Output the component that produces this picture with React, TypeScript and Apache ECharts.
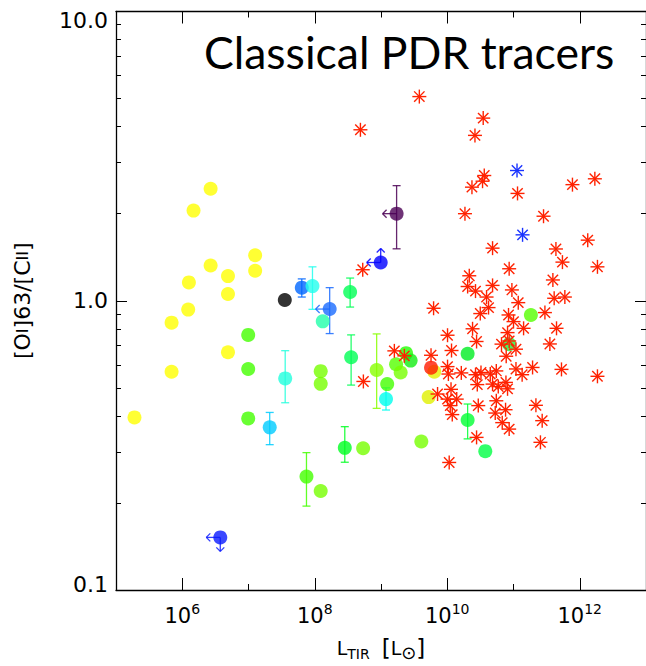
import React, { useEffect, useRef } from "react";
import * as echarts from "echarts";

// ---------- axis ticks ----------
const xMajorTicks = [1e6, 1e8, 1e10, 1e12];
const xMinorTicks = [1e7, 1e9, 1e11];
const yMajorTicks = [0.1, 1, 10];
const yMinorTicks = [0.2, 0.3, 0.4, 0.5, 0.6, 0.7, 0.8, 0.9, 2, 3, 4, 5, 6, 7, 8, 9];
const yTickLabels = ["0.1", "1.0", "10.0"];

// ---------- filled circles (L_TIR [Lsun], [OI]63/[CII], error low/high, limits, colour) ----------
const circleL = [
  1.9e5, 6.9e5, 6.9e5, 1.23e6, 1.26e6, 1.48e6, 2.68e6, 2.68e6, 4.9e6, 4.9e6, 4.9e6, 1.26e7, 1.26e7,
  9.9e6, 9.9e6, 9.9e6, 3.53e7, 6.37e7, 9.24e7, 1.68e8, 1.32e8, 3.42e8, 9.9e8, 1.72e9, 3.58e7, 2.09e7,
  7.5e7, 1.23e8, 3.75e6, 1.23e8, 1.23e8, 3.54e8, 8.6e8, 1.24e9, 1.19e9, 2.84e8, 5.37e8, 1.69e9, 1.98e9,
  2.39e9, 2.8e9, 6.38e9, 5.69e9, 5.24e9, 4.06e9, 2.03e10, 2.03e10, 3.75e10, 1.83e11, 8.6e10,
];
const circleR = [
  0.395, 0.568, 0.84, 0.932, 1.157, 2.05, 2.44, 1.324, 1.217, 1.055, 0.664, 1.437, 1.27,
  0.762, 0.581, 0.392, 1.006, 1.11, 1.124, 0.936, 0.849, 1.072, 1.356, 2.0, 0.539, 0.365,
  0.2466, 0.22, 0.152, 0.571, 0.516, 0.638, 0.576, 0.515, 0.457, 0.31, 0.309, 0.6035, 0.565,
  0.659, 0.621, 0.568, 0.587, 0.4645, 0.326, 0.387, 0.656, 0.302, 0.893, 0.708,
];
const circleLo: (number | null)[] = [
  null, null, null, null, null, null, null, null, null, null, null, null, null,
  null, null, null, null, 1.03, 0.934, 0.77, null, 0.951, null, 1.512, 0.444, 0.318,
  0.195, null, null, null, null, 0.511, 0.4246, null, 0.419, 0.2765, null, null, null,
  null, null, null, null, null, null, 0.333, null, null, null, null,
];
const circleHi: (number | null)[] = [
  null, null, null, null, null, null, null, null, null, null, null, null, null,
  null, null, null, null, 1.19, 1.31, 1.11, null, 1.198, null, 2.5, 0.672, 0.411,
  0.2985, null, null, null, null, 0.762, 0.768, null, 0.5, 0.367, null, null, null,
  null, null, null, null, null, null, 0.4395, null, null, null, null,
];
const circleLimits = [
  "", "", "", "", "", "", "", "", "", "", "", "", "",
  "", "", "", "", "", "", "left", "", "", "left up", "left", "", "",
  "", "", "left down", "", "", "", "", "", "", "", "", "", "",
  "", "", "", "", "", "", "", "", "", "", "",
];
const circleColours = [
  "#ffff00", "#ffff00", "#ffff00", "#ffff00", "#ffff00", "#ffff00", "#ffff00", "#ffff00", "#ffff00", "#ffff00", "#ffff00", "#ffff00", "#ffff00",
  "#44ff00", "#44ff00", "#44ff00", "#000000", "#0066ff", "#22ffee", "#1a6bff", "#22ffaa", "#00ff55", "#0000ff", "#4b0055", "#22ffdd", "#00ccff",
  "#44ff00", "#77ff00", "#0a1aff", "#77ff00", "#77ff00", "#00ff55", "#88ff00", "#44ff00", "#00ffee", "#00ff22", "#77ff00", "#55ff00", "#77ff00",
  "#22ff00", "#11ee11", "#e6f000", "#ff1a00", "#e0f000", "#77ff00", "#00ff33", "#00ee22", "#00ff44", "#55ff00", "#22ee33",
];

// ---------- red asterisks ----------
const starL = [
  3.79e9, 4.89e8, 3.49e10, 2.62e10, 3.62e10, 3.41e10, 2.36e10, 1.15e11, 7.76e11, 1.69e12,
  1.85e10, 2.84e11, 4.83e10, 4.37e11, 1.32e12, 5.48e11, 1.85e12, 8.6e10, 3.93e11, 2.15e10,
  2.03e10, 2.67e10, 4.83e10, 9.46e10, 3.92e10, 4.11e11, 5.96e11, 5.3e8, 6.22e9, 4.2e10,
  1.18e11, 3.15e10, 8.41e10, 2.98e11, 1.0e11, 2.41e10, 1.42e11, 4.46e11, 1.01e10, 8.13e10,
  2.77e10, 3.54e11, 1.16e10, 6.59e10, 8.6e10, 1.09e11, 7.76e10, 5.69e9, 1.59e9, 2.25e9,
  1.01e10, 1.04e10, 1.63e10, 2.67e10, 3.23e10, 4.46e10, 5.5e10, 1.09e11, 1.35e11, 1.94e11,
  5.3e11, 1.85e12, 2.84e10, 4.83e10, 5.89e10, 7.69e10, 8.13e10, 7.14e9, 1.14e10, 1.01e10,
  1.39e10, 1.11e10, 1.19e10, 2.94e10, 5.5e10, 5.3e10, 7.59e10, 6.76e10, 8.6e10, 2.18e11,
  2.71e11, 2.77e10, 2.55e11, 1.07e10, 5.42e8,
];
const starR = [
  5.08, 3.9, 4.28, 3.73, 2.71, 2.59, 2.47, 2.35, 2.52, 2.64,
  2.0, 1.96, 1.52, 1.51, 1.62, 1.36, 1.31, 1.29, 1.18, 1.22,
  1.12, 1.08, 1.13, 1.09, 1.03, 1.02, 1.03, 1.28, 0.942, 0.947,
  0.985, 0.903, 0.893, 0.91, 0.847, 0.8, 0.803, 0.803, 0.76, 0.776,
  0.723, 0.709, 0.673, 0.708, 0.726, 0.68, 0.643, 0.648, 0.671, 0.645,
  0.592, 0.558, 0.563, 0.555, 0.565, 0.558, 0.572, 0.581, 0.555, 0.588,
  0.579, 0.548, 0.513, 0.515, 0.505, 0.522, 0.496, 0.476, 0.494, 0.457,
  0.457, 0.434, 0.404, 0.434, 0.451, 0.409, 0.42, 0.379, 0.36, 0.435,
  0.385, 0.337, 0.324, 0.276, 0.526,
];

// ---------- blue asterisks ----------
const blueStarL = [1.13e11, 1.37e11];
const blueStarR = [2.82, 1.69];

const FONT = "DejaVu Sans";

function asteriskSeries(xs: number[], ys: number[], colour: string) {
  return {
    type: "custom",
    xAxisIndex: 0,
    yAxisIndex: 0,
    z: 5,
    data: xs.map((l, i) => [l, ys[i]]),
    renderItem: (params: any, api: any) => {
      const p = api.coord([api.value(0), api.value(1)]);
      const r = 7;
      const d = 5.2;
      const segs = [
        [-r, 0, r, 0],
        [0, -r, 0, r],
        [-d, -d, d, d],
        [-d, d, d, -d],
      ];
      return {
        type: "group",
        children: segs.map((s) => ({
          type: "line",
          shape: { x1: p[0] + s[0], y1: p[1] + s[1], x2: p[0] + s[2], y2: p[1] + s[3] },
          style: { stroke: colour, lineWidth: 1.4 },
        })),
      };
    },
  };
}

function buildOption() {
  const line = (x1: number, y1: number, x2: number, y2: number, c: string) => ({
    type: "line",
    shape: { x1, y1, x2, y2 },
    style: { stroke: c, lineWidth: 1.3, opacity: 0.85 },
  });

  const tickStyle = { color: "#000", width: 1 };
  const axisLineStyle = { color: "#000", width: 1.3 };

  const xBase = {
    type: "log",
    logBase: 10,
    min: 1e5,
    max: 1e13,
    splitLine: { show: false },
    minorTick: { show: false },
  };
  const yBase = {
    type: "log",
    logBase: 10,
    min: 0.1,
    max: 10,
    splitLine: { show: false },
    minorTick: { show: false },
  };

  return {
    animation: false,
    backgroundColor: "#ffffff",
    grid: { left: 116, top: 11.5, width: 531, height: 580.5, containLabel: false },
    xAxis: [
      {
        ...xBase,
        position: "bottom",
        axisLine: { show: true, onZero: false, lineStyle: axisLineStyle },
        axisTick: { show: true, inside: true, length: 12, customValues: xMajorTicks, lineStyle: tickStyle },
        axisLabel: {
          show: true,
          customValues: xMajorTicks,
          margin: 12,
          formatter: (v: number) => `{b|10}{s|${Math.round(Math.log10(v))}}`,
          rich: {
            b: { fontFamily: FONT, fontSize: 21, lineHeight: 28, color: "#000" },
            s: { fontFamily: FONT, fontSize: 14, lineHeight: 12, verticalAlign: "top", color: "#000" },
          },
        },
        name: "{m|L}{sub|TIR}{m|  }{br|[}{m|L}{sun|⊙}{br|]}",
        nameLocation: "middle",
        nameGap: 45,
        nameTextStyle: {
          rich: {
            m: { fontFamily: FONT, fontSize: 19, lineHeight: 26, color: "#000" },
            br: { fontFamily: FONT, fontSize: 23, lineHeight: 26, color: "#000" },
            sub: { fontFamily: FONT, fontSize: 14, lineHeight: 13, verticalAlign: "bottom", color: "#000" },
            sun: { fontFamily: FONT, fontSize: 18, lineHeight: 16, verticalAlign: "bottom", color: "#000" },
          },
        },
      },
      {
        ...xBase,
        position: "bottom",
        axisLine: { show: false },
        axisTick: { show: true, inside: true, length: 6, customValues: xMinorTicks, lineStyle: tickStyle },
        axisLabel: { show: false },
      },
      {
        ...xBase,
        position: "top",
        axisLine: { show: true, onZero: false, lineStyle: axisLineStyle },
        axisTick: { show: true, inside: true, length: 12, customValues: xMajorTicks, lineStyle: tickStyle },
        axisLabel: { show: false },
      },
      {
        ...xBase,
        position: "top",
        axisLine: { show: false },
        axisTick: { show: true, inside: true, length: 6, customValues: xMinorTicks, lineStyle: tickStyle },
        axisLabel: { show: false },
      },
    ],
    yAxis: [
      {
        ...yBase,
        position: "left",
        axisLine: { show: true, onZero: false, lineStyle: axisLineStyle },
        axisTick: { show: true, inside: true, length: 11, customValues: yMajorTicks, lineStyle: tickStyle },
        axisLabel: {
          show: true,
          customValues: yMajorTicks,
          margin: 8,
          formatter: (v: number) => {
            const i = yMajorTicks.findIndex((t) => Math.abs(Math.log10(t) - Math.log10(v)) < 1e-6);
            const key = i === 2 ? "t" : i === 0 ? "bt" : "m";
            return `{${key}|${yTickLabels[i]}}`;
          },
          rich: {
            t: { fontFamily: FONT, fontSize: 22, color: "#000", padding: [17, 0, 0, 0] },
            m: { fontFamily: FONT, fontSize: 22, color: "#000" },
            bt: { fontFamily: FONT, fontSize: 22, color: "#000", padding: [0, 0, 12, 0] },
          },
        },
        name: "{m|[O}{r|I}{m|]63/[C}{r|II}{m|]}",
        nameLocation: "middle",
        nameRotate: 90,
        nameGap: 80,
        nameTextStyle: {
          rich: {
            m: { fontFamily: FONT, fontSize: 22, lineHeight: 26, color: "#000" },
            r: { fontFamily: FONT, fontSize: 16, lineHeight: 28, verticalAlign: "middle", color: "#000" },
          },
        },
      },
      {
        ...yBase,
        position: "left",
        axisLine: { show: false },
        axisTick: { show: true, inside: true, length: 5, customValues: yMinorTicks, lineStyle: tickStyle },
        axisLabel: { show: false },
      },
      {
        ...yBase,
        position: "right",
        axisLine: { show: true, onZero: false, lineStyle: axisLineStyle },
        axisTick: { show: true, inside: true, length: 11, customValues: yMajorTicks, lineStyle: tickStyle },
        axisLabel: { show: false },
      },
      {
        ...yBase,
        position: "right",
        axisLine: { show: false },
        axisTick: { show: true, inside: true, length: 5, customValues: yMinorTicks, lineStyle: tickStyle },
        axisLabel: { show: false },
      },
    ],
    graphic: [
      {
        type: "text",
        x: 204,
        y: 28.5,
        style: {
          text: "Classical PDR tracers",
          fontFamily: "Lato",
          fontSize: 44.5,
          fill: "#000",
          align: "left",
          verticalAlign: "top",
        },
      },
    ],
    series: [
      {
        type: "custom",
        xAxisIndex: 0,
        yAxisIndex: 0,
        z: 2,
        data: circleL.map((l, i) => [l, circleR[i]]),
        renderItem: (params: any, api: any) => {
          const i = params.dataIndex;
          const c = api.coord([circleL[i], circleR[i]]);
          const col = circleColours[i];
          const children: any[] = [];
          const lo = circleLo[i];
          const hi = circleHi[i];
          if (lo != null && hi != null) {
            const pl = api.coord([circleL[i], lo]);
            const ph = api.coord([circleL[i], hi]);
            children.push(line(c[0], pl[1], c[0], ph[1], col));
            children.push(line(c[0] - 4, pl[1], c[0] + 4, pl[1], col));
            children.push(line(c[0] - 4, ph[1], c[0] + 4, ph[1], col));
          }
          const lim = circleLimits[i];
          if (lim.includes("left")) {
            const t = c[0] - 14;
            children.push(line(c[0], c[1], t, c[1], col));
            children.push(line(t, c[1], t + 4, c[1] - 4, col));
            children.push(line(t, c[1], t + 4, c[1] + 4, col));
          }
          if (lim.includes("down")) {
            const t = c[1] + 14;
            children.push(line(c[0], c[1], c[0], t, col));
            children.push(line(c[0], t, c[0] - 4, t - 4, col));
            children.push(line(c[0], t, c[0] + 4, t - 4, col));
          }
          if (lim.includes("up")) {
            const t = c[1] - 14;
            children.push(line(c[0], c[1], c[0], t, col));
            children.push(line(c[0], t, c[0] - 4, t + 4, col));
            children.push(line(c[0], t, c[0] + 4, t + 4, col));
          }
          return { type: "group", children };
        },
      },
      {
        type: "scatter",
        xAxisIndex: 0,
        yAxisIndex: 0,
        z: 3,
        symbol: "circle",
        symbolSize: 14,
        data: circleL.map((l, i) => ({ value: [l, circleR[i]], itemStyle: { color: circleColours[i] } })),
      },
      asteriskSeries(starL, starR, "#ff2200"),
      asteriskSeries(blueStarL, blueStarR, "#1a33ff"),
    ],
  };
}

export default function App() {
  const ref = useRef<HTMLDivElement>(null);
  useEffect(() => {
    if (!ref.current) return;
    const chart = echarts.init(ref.current, null, { renderer: "svg" });
    chart.setOption(buildOption() as any);
    return () => chart.dispose();
  }, []);
  return (
    <div
      ref={ref}
      style={{ position: "absolute", left: 0, top: 0, width: 646, height: 666, background: "#fff" }}
    />
  );
}
